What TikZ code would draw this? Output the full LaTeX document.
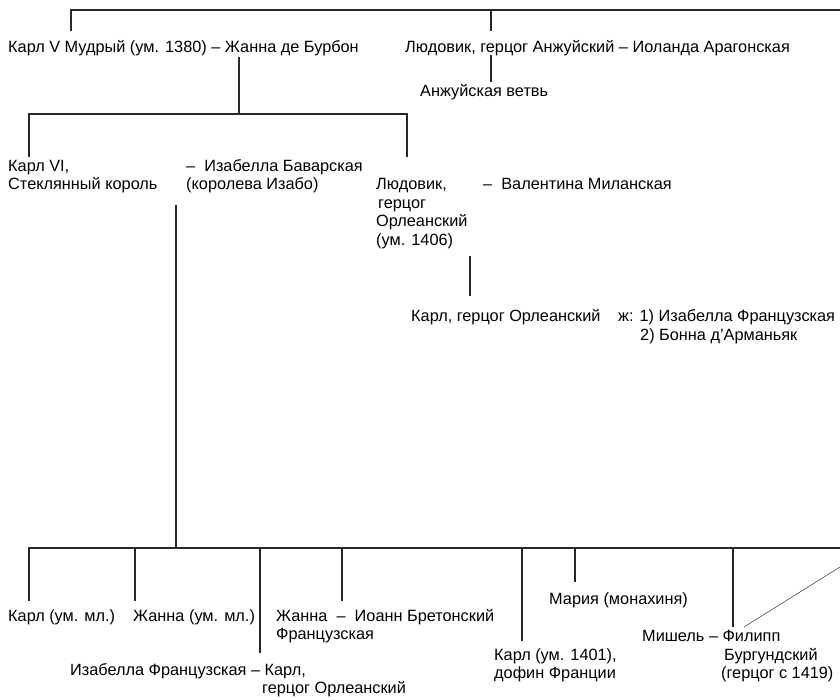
\documentclass[tikz,border=0pt]{standalone}
\usepackage{fontspec}
\setmainfont{Liberation Sans}
\begin{document}
\begin{tikzpicture}[x=1pt,y=-1pt,
  lbl/.style={anchor=base west,inner sep=0pt,font=\fontsize{16.3}{18.5}\selectfont,text=black},
  tree/.style={line width=1.7pt,draw=black!85},
  thin/.style={line width=0.6pt,draw=black!70}]
\useasboundingbox (0,0) rectangle (840,699);
% ---------- texts ----------
\node[lbl] (k5) at (8,52) {Карл V Мудрый (ум. 1380) – Жанна де Бурбон};
\node[lbl] (lanj) at (405,52) {Людовик, герцог Анжуйский – Иоланда Арагонская};
\node[lbl] (anjb) at (420,96) {Анжуйская ветвь};
\node[lbl] (k6a) at (8,171) {Карл VI,};
\node[lbl] (k6b) at (8,189) {Стеклянный король};
\node[lbl] (isba) at (186,171) {–\ \ Изабелла Баварская};
\node[lbl] (isbb) at (186,189) {(королева Изабо)};
\node[lbl] (lora) at (376,189) {Людовик,};
\node[lbl] (lorb) at (378,208) {герцог};
\node[lbl] (lorc) at (376,226) {Орлеанский};
\node[lbl] (lord) at (376,245) {(ум. 1406)};
\node[lbl] (valm) at (483,189) {–\ \ Валентина Миланская};
\node[lbl] (korl) at (411,321) {Карл, герцог Орлеанский};
\node[lbl] (wa) at (618,321) {ж: 1) Изабелла Французская};
\node[lbl] (wb) at (640,340) {2) Бонна д'Арманьяк};
\node[lbl] (c1) at (8,621) {Карл (ум. мл.)};
\node[lbl] (c2) at (133,621) {Жанна (ум. мл.)};
\node[lbl] (c4a) at (276,621) {Жанна\ \ –\ \ Иоанн Бретонский};
\node[lbl] (c4b) at (276,639) {Французская};
\node[lbl] (c3a) at (70,675) {Изабелла Французская – Карл,};
\node[lbl] (c3b) at (262,693) {герцог Орлеанский};
\node[lbl] (c6) at (549,604) {Мария (монахиня)};
\node[lbl] (c5a) at (494,660) {Карл (ум. 1401),};
\node[lbl] (c5b) at (494,678) {дофин Франции};
\node[lbl] (c7a) at (642,641) {Мишель – Филипп};
\node[lbl] (c7b) at (724,660) {Бургундский};
\node[lbl] (c7c) at (721,678) {(герцог с 1419)};
% ---------- coordinates ----------
\coordinate (t0) at (71,31);
\coordinate (t1) at (71,10);
\coordinate (t2) at (840,10);
\coordinate (ta) at (491,10);
\coordinate (tb) at (491,31);
\coordinate (aa) at (491,55);
\coordinate (ab) at (491,82);
\coordinate (ka) at (239,57);
\coordinate (kb) at (239,114);
\coordinate (g0) at (29,157);
\coordinate (g1) at (29,114);
\coordinate (g2) at (407,114);
\coordinate (g3) at (407,157);
\coordinate (ia) at (176,205);
\coordinate (ib) at (176,548);
\coordinate (oa) at (470,256);
\coordinate (ob) at (470,296);
\coordinate (b0) at (29,601);
\coordinate (b1) at (29,548);
\coordinate (b2) at (840,548);
\coordinate (d1) at (135,548);\coordinate (e1) at (135,601);
\coordinate (d2) at (260,548);\coordinate (e2) at (260,653);
\coordinate (d3) at (342,548);\coordinate (e3) at (342,601);
\coordinate (d4) at (522,548);\coordinate (e4) at (522,641);
\coordinate (d5) at (575,548);\coordinate (e5) at (575,582);
\coordinate (d6) at (733,548);\coordinate (e6) at (733,627);
\coordinate (s1) at (744,627);
\coordinate (s2) at (840,567);
% ---------- lines ----------
\draw[tree] (t0) -- (t1) -- (t2);
\draw[tree] (ta) -- (tb);
\draw[tree] (aa) -- (ab);
\draw[tree] (ka) -- (kb);
\draw[tree] (g0) -- (g1) -- (g2) -- (g3);
\draw[tree] (ia) -- (ib);
\draw[tree] (oa) -- (ob);
\draw[tree] (b0) -- (b1) -- (b2);
\draw[tree] (d1) -- (e1);
\draw[tree] (d2) -- (e2);
\draw[tree] (d3) -- (e3);
\draw[tree] (d4) -- (e4);
\draw[tree] (d5) -- (e5);
\draw[tree] (d6) -- (e6);
\draw[thin] (s1) -- (s2);
\end{tikzpicture}
\end{document}
